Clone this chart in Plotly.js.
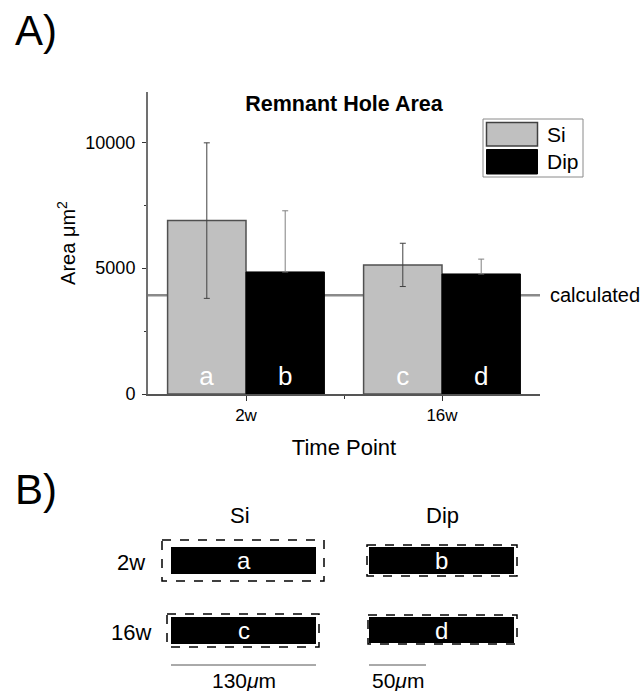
<!DOCTYPE html>
<html>
<head>
<meta charset="utf-8">
<script src="https://cdn.plot.ly/plotly-3.0.1.min.js"></script>
<style>html,body{margin:0;padding:0;background:#fff;}#chart{width:642px;height:691px;}</style>
</head>
<body>
<div id="chart"></div>
<script>
// ---- Data (panel A) ----
const categories = ['2w', '16w'];
const seriesNames = ['Si', 'Dip'];
const siMean = [6890, 5130];
const siErr = [3090, 860];
const dipMean = [4850, 4770];
const dipErr = [2430, 590];
const siLetters = ['a', 'c'];
const dipLetters = ['b', 'd'];
const calculatedArea = 3920;
const calculatedLabel = 'calculated';
const yTickVals = [0, 5000, 10000];
const yTickText = ['0', '5000', '10000'];

// ---- Panel B labels ----
const rowLabels = ['2w', '16w'];
const colLabels = ['Si', 'Dip'];
const cellLetters = [['a', 'b'], ['c', 'd']];
const scaleLabels = ['130<i>μ</i>m', '50<i>μ</i>m'];
const panelLabels = ['A)', 'B)'];

// ---- layout geometry (pixels) ----
const W = 642, H = 691;
const L = 148, R = 102, T = 92, B = 297;
const PW = W - L - R, PH = H - T - B;
const px = v => (v - L) / PW;
const py = v => (H - B - v) / PH;
const FONT = 'Liberation Sans, Arial, sans-serif';

const xIdx = categories.map((_, i) => i);

const traces = [
  {
    type: 'bar', name: seriesNames[0], x: xIdx, y: siMean,
    marker: {color: '#c0c0c0', line: {color: '#505050', width: 1.5}},
    error_y: {type: 'data', array: siErr, visible: true, color: '#404040', thickness: 1, width: 3},
    text: siLetters, textposition: 'inside', insidetextanchor: 'start',
    textfont: {color: '#ffffff', size: 26, family: FONT},
    constraintext: 'none', cliponaxis: false, hoverinfo: 'skip'
  },
  {
    type: 'bar', name: seriesNames[1], x: xIdx, y: dipMean,
    marker: {color: '#000000', line: {color: '#000000', width: 1}},
    error_y: {type: 'data', symmetric: false, array: dipErr, arrayminus: dipErr.map(() => 0), visible: true, color: '#808080', thickness: 1, width: 3},
    text: dipLetters, textposition: 'inside', insidetextanchor: 'start',
    textfont: {color: '#ffffff', size: 26, family: FONT},
    constraintext: 'none', cliponaxis: false, hoverinfo: 'skip'
  }
];

const shapes = [];
const annotations = [];

// calculated line behind bars
shapes.push({type: 'line', xref: 'paper', yref: 'y', x0: 0, x1: 1, y0: calculatedArea, y1: calculatedArea,
  line: {color: '#8a8a8a', width: 2.5}, layer: 'below'});
annotations.push({xref: 'paper', yref: 'y', x: px(548), y: calculatedArea, xanchor: 'left', yanchor: 'middle',
  text: calculatedLabel, showarrow: false, font: {family: FONT, size: 20, color: '#000'}});

function rectPx(x0, y0, x1, y1, style) {
  shapes.push(Object.assign({type: 'rect', xref: 'paper', yref: 'paper',
    x0: px(x0), x1: px(x1), y0: py(y0), y1: py(y1)}, style));
}
function textPx(text, x, y, size, xanchor, color) {
  annotations.push({xref: 'paper', yref: 'paper', x: px(x), y: py(y), xanchor: xanchor || 'center',
    yanchor: 'middle', text: text, showarrow: false, font: {family: FONT, size: size, color: color || '#000'}});
}
// custom legend
rectPx(483, 119, 583, 177, {line: {color: '#8a8a8a', width: 1}, fillcolor: 'rgba(0,0,0,0)'});
rectPx(486.5, 122.5, 537.5, 146, {line: {color: '#404040', width: 1.5}, fillcolor: '#c0c0c0'});
rectPx(486.5, 149.5, 537.5, 174, {line: {color: '#000', width: 1}, fillcolor: '#000'});
textPx(seriesNames[0], 545, 134, 21, 'left');
textPx(seriesNames[1], 545, 161, 21, 'left');

// panel labels
textPx(panelLabels[0], 36, 30, 42, 'center');
textPx(panelLabels[1], 36, 489, 42, 'center');

// Panel B
const colCenters = [240, 442];
const rowCenters = [562, 632];
colLabels.forEach((c, i) => textPx(c, colCenters[i], 515, 22));
rowLabels.forEach((r, i) => textPx(r, 131, rowCenters[i], 22));
const dashedBoxes = [
  [[162, 540, 324, 581], [367, 545, 517, 576]],
  [[167, 614, 319, 647], [368, 615, 517, 644]]
];
const blackBoxes = [
  [[171, 547, 316, 574], [369, 547, 514, 574]],
  [[171, 617, 316, 644], [369, 617, 514, 643]]
];
cellLetters.forEach((row, r) => row.forEach((letter, c) => {
  const d = dashedBoxes[r][c], b = blackBoxes[r][c];
  rectPx(d[0], d[1], d[2], d[3], {line: {color: '#000', width: 1.5, dash: 'dash'}, fillcolor: 'rgba(0,0,0,0)'});
  rectPx(b[0], b[1], b[2], b[3], {line: {color: '#000', width: 0}, fillcolor: '#000'});
  textPx(letter, (b[0] + b[2]) / 2, (b[1] + b[3]) / 2, 24, 'center', '#fff');
}));
const scaleBars = [[171, 316], [369, 426]];
scaleBars.forEach((s, i) => {
  shapes.push({type: 'line', xref: 'paper', yref: 'paper', x0: px(s[0]), x1: px(s[1]), y0: py(665), y1: py(665),
    line: {color: '#555', width: 1}});
  textPx(scaleLabels[i], (s[0] + s[1]) / 2, 680, 21);
});

const layout = {
  width: W, height: H,
  margin: {l: L, r: R, t: T, b: B, pad: 0},
  paper_bgcolor: '#fff', plot_bgcolor: '#fff',
  showlegend: false,
  barmode: 'group', bargap: 0.2, bargroupgap: 0,
  title: {text: '<b>Remnant Hole Area</b>', x: 0.5, xref: 'paper', y: 1 - 103 / H, yref: 'container',
    xanchor: 'center', yanchor: 'middle', font: {family: FONT, size: 21.5, color: '#000'}},
  xaxis: {
    range: [-0.5, 1.5], tickmode: 'array', tickvals: xIdx, ticktext: categories,
    showline: true, linecolor: '#555', linewidth: 1.5, ticks: 'outside', ticklen: 5, tickcolor: '#333', tickwidth: 1,
    minor: {tickmode: 'array', tickvals: [0.5], ticklen: 3, tickcolor: '#333', ticks: 'outside'},
    showgrid: false, zeroline: false,
    tickfont: {family: FONT, size: 17, color: '#000'},
    title: {text: 'Time Point', font: {family: FONT, size: 22, color: '#000'}, standoff: 15}
  },
  yaxis: {
    range: [0, 12000], tickmode: 'array', tickvals: yTickVals, ticktext: yTickText,
    showline: true, linecolor: '#707070', linewidth: 2, ticks: 'outside', ticklen: 4, tickcolor: '#333', tickwidth: 1,
    ticklabelstandoff: 3,
    minor: {dtick: 2500, ticklen: 2.5, tickcolor: '#333', ticks: 'outside'},
    showgrid: false, zeroline: false,
    tickfont: {family: FONT, size: 18, color: '#000'},
    title: {text: 'Area μm<sup>2</sup>', font: {family: FONT, size: 20, color: '#000'}, standoff: 4}
  },
  shapes: shapes,
  annotations: annotations
};

Plotly.newPlot('chart', traces, layout, {staticPlot: true, displayModeBar: false});
</script>
</body>
</html>
